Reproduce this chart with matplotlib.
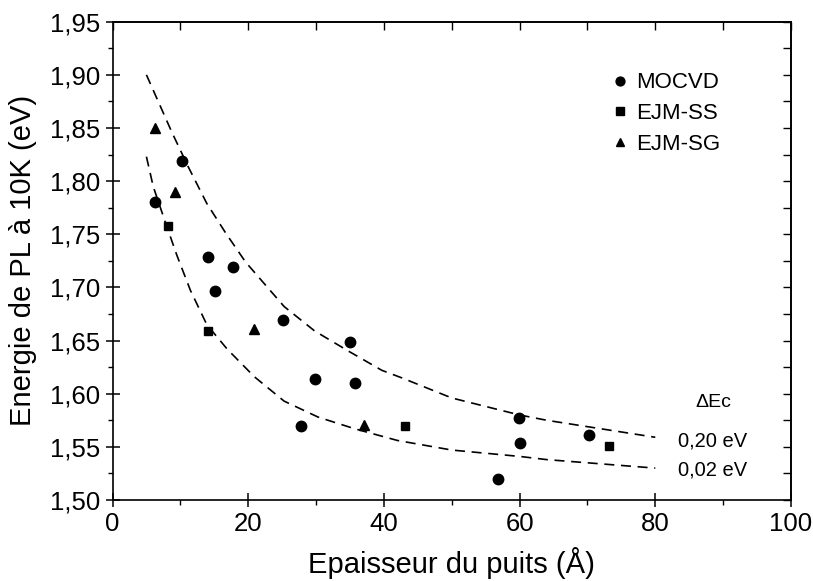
import matplotlib
matplotlib.use("Agg")
import matplotlib.pyplot as plt
from matplotlib.ticker import MultipleLocator, FuncFormatter

plt.rcParams['font.family'] = ['Liberation Sans', 'DejaVu Sans']

# --- data ---
mocvd_x = [6.2, 10.2, 14.1, 15.1, 17.7, 25.2, 29.9, 35.0, 35.8, 27.8, 56.8, 59.9, 60.0, 70.3]
mocvd_y = [1.780, 1.819, 1.729, 1.697, 1.719, 1.669, 1.614, 1.649, 1.610, 1.570, 1.520, 1.577, 1.554, 1.561]
ss_x = [8.25, 14.1, 43.1, 73.2]
ss_y = [1.758, 1.659, 1.570, 1.551]
sg_x = [6.3, 9.2, 20.9, 37.1]
sg_y = [1.850, 1.790, 1.661, 1.571]

# theoretical curves (Delta Ec = 0.20 eV and 0.02 eV)
up_x = [5, 8.75, 11.2, 13.9, 16.7, 19.6, 21.9, 25.3, 29.8, 34.8, 39.7, 42.6, 50, 60, 64, 70, 80]
up_y = [1.900, 1.846, 1.813, 1.779, 1.751, 1.724, 1.707, 1.682, 1.659, 1.640, 1.622, 1.615,
        1.596, 1.580, 1.575, 1.569, 1.559]
lo_x = [5, 6, 7.8, 9.5, 11.5, 13.9, 16.9, 20.9, 25.3, 30.3, 35.7, 42, 50, 60, 64, 70, 80]
lo_y = [1.823, 1.795, 1.761, 1.730, 1.697, 1.665, 1.642, 1.616, 1.593, 1.578, 1.567, 1.556,
        1.547, 1.541, 1.538, 1.535, 1.530]

series_labels = ["MOCVD", "EJM-SS", "EJM-SG"]
curve_title = "ΔEc"
curve_labels = ["0,20 eV", "0,02 eV"]
xlabel = "Epaisseur du puits (Å)"
ylabel = "Energie de PL à 10K (eV)"

W, H = 813, 581
fig = plt.figure(figsize=(W / 100, H / 100), dpi=100)
ax = fig.add_axes([112.5 / W, 1 - 500 / H, (791 - 112.5) / W, (500 - 21.7) / H])

dash = dict(color='black', lw=1.2, dashes=(6, 4))
ax.plot(up_x, up_y, **dash)
ax.plot(lo_x, lo_y, **dash)

ax.plot(mocvd_x, mocvd_y, 'o', color='black', ms=7.5, ls='none', label=series_labels[0])
ax.plot(ss_x, ss_y, 's', color='black', ms=6, ls='none', label=series_labels[1])
ax.plot(sg_x, sg_y, '^', color='black', ms=7, ls='none', label=series_labels[2])

ax.set_xlim(0, 100)
ax.set_ylim(1.50, 1.95)
ax.xaxis.set_major_locator(MultipleLocator(20))
ax.xaxis.set_minor_locator(MultipleLocator(10))
ax.yaxis.set_major_locator(MultipleLocator(0.05))
ax.yaxis.set_minor_locator(MultipleLocator(0.025))
ax.yaxis.set_major_formatter(FuncFormatter(lambda v, p: f"{v:.2f}".replace('.', ',')))

for s in ax.spines.values():
    s.set_linewidth(1.2)

ax.tick_params(which='major', direction='inout', length=10, width=1.1,
               labelsize=18.5, pad=3.5)
ax.tick_params(which='minor', direction='out', length=3.5, width=1.0)
ax.tick_params(axis='y', which='major', pad=4)

top = ax.secondary_xaxis('top')
top.xaxis.set_major_locator(MultipleLocator(20))
top.xaxis.set_minor_locator(MultipleLocator(10))
top.tick_params(which='both', direction='in', length=6, width=1.0, labeltop=False)
top.spines['top'].set_linewidth(1.2)
right = ax.secondary_yaxis('right')
right.yaxis.set_major_locator(MultipleLocator(0.05))
right.yaxis.set_minor_locator(MultipleLocator(0.025))
right.tick_params(which='both', direction='in', length=6, width=1.0, labelright=False)
right.spines['right'].set_linewidth(1.2)

ax.set_xlabel(xlabel, fontsize=21)
ax.set_ylabel(ylabel, fontsize=21)
ax.xaxis.set_label_coords(0.5, -0.098)
ax.yaxis.set_label_coords(-0.112, 0.5)

leg = ax.legend(loc='upper left', bbox_to_anchor=(0.738, 0.894), frameon=False,
                fontsize=16, handlelength=0.6, handletextpad=0.45, labelspacing=0.43,
                borderpad=0, borderaxespad=0, markerscale=0.85)

ax.text(88.5, 1.5918, curve_title, fontsize=14, ha='center', va='center')
ax.text(83.3, 1.5552, curve_labels[0], fontsize=14.5, ha='left', va='center')
ax.text(83.3, 1.5280, curve_labels[1], fontsize=14.5, ha='left', va='center')

fig.savefig("out.png", dpi=100)
